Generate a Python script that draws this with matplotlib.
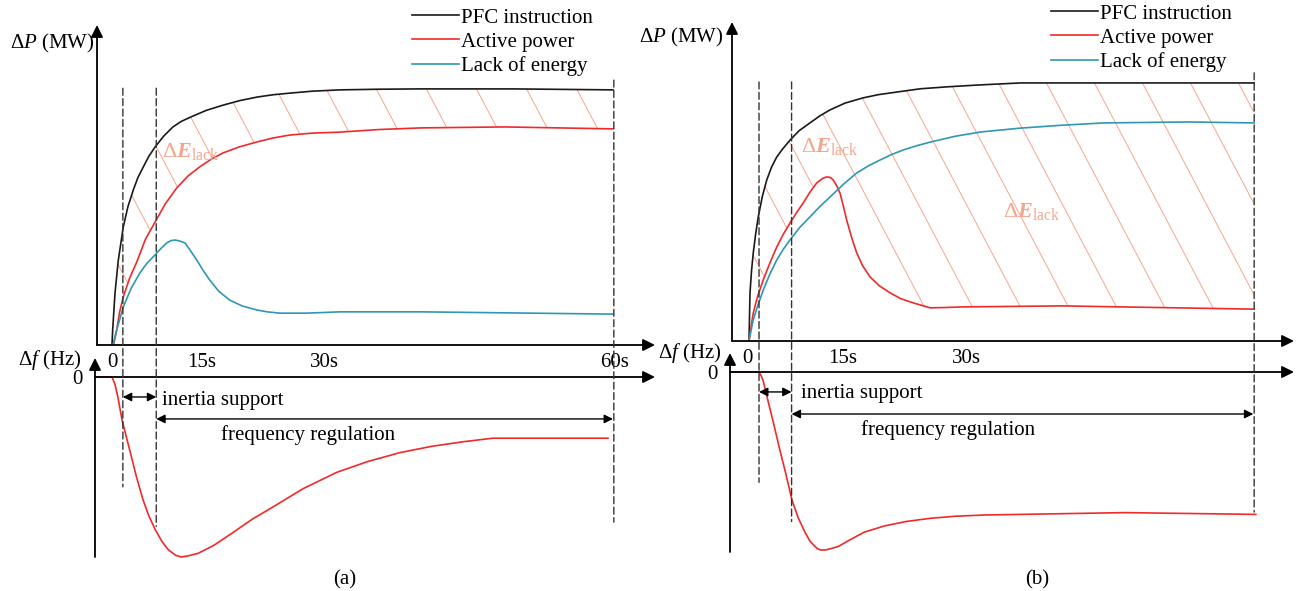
import numpy as np
import matplotlib
matplotlib.use("Agg")
import matplotlib.pyplot as plt
from matplotlib.patches import Polygon, ConnectionPatch

plt.rcParams["font.family"] = ["Liberation Serif", "DejaVu Serif"]
plt.rcParams["font.size"] = 15
plt.rcParams["mathtext.fontset"] = "custom"
plt.rcParams["mathtext.rm"] = "Liberation Serif"
plt.rcParams["mathtext.it"] = "Liberation Serif:italic"
plt.rcParams["mathtext.bf"] = "Liberation Serif:bold"
plt.rcParams["mathtext.bfit"] = "Liberation Serif:italic:bold"

# ---- values (schematic time in s, dP / df in p.u.) ----
# panel (a)
t_pfc_a = [0, 0.08, 0.36, 0.75, 1.35, 1.9, 2.55, 3.1, 3.75, 4.4, 5.15, 6.2, 7.3, 8.3, 9.3, 11.3, 13.3,
           15.3, 17.4, 19.3, 21.3, 24, 27.3, 32, 37, 48, 60]
p_pfc_a = [0, 0.046, 0.16, 0.26, 0.363, 0.425, 0.477, 0.515, 0.548, 0.58, 0.609, 0.643, 0.671, 0.688, 0.70,
           0.722, 0.738, 0.752, 0.763, 0.770, 0.775, 0.781, 0.785, 0.787, 0.788, 0.788, 0.785]
t_act_a = [0.18, 0.56, 0.9, 1.35, 2.1, 2.96, 4.0, 5.15, 6.4, 7.75, 9.1, 10.5, 11.9, 13.3, 15.3, 17.4,
           19.3, 21.3, 24, 27.3, 32, 37, 47, 60]
p_act_a = [0, 0.046, 0.10, 0.148, 0.205, 0.255, 0.325, 0.378, 0.435, 0.483, 0.52, 0.548, 0.572, 0.591,
           0.610, 0.625, 0.637, 0.646, 0.652, 0.655, 0.663, 0.668, 0.671, 0.665]
t_lack_a = [0.12, 0.56, 1.35, 2.3, 3.35, 4.2, 5.15, 5.9, 6.55, 7.05, 7.55, 8.1, 8.74, 9.4, 10.14, 10.9,
            11.7, 12.8, 14.1, 15.6, 17.3, 18.6, 20.1, 23.3, 27.3, 37, 60]
p_lack_a = [0, 0.046, 0.117, 0.175, 0.222, 0.252, 0.277, 0.298, 0.314, 0.321, 0.323, 0.320, 0.314, 0.29,
            0.262, 0.23, 0.20, 0.165, 0.138, 0.12, 0.108, 0.102, 0.098, 0.098, 0.102, 0.102, 0.095]
t_df_a = [-1.8, 0, 0.35, 0.7, 1.2, 1.7, 2.2, 2.9, 3.7, 4.4, 5.2, 6.0, 6.75, 7.6, 8.26, 9.0, 10.3, 12.2,
          14.3, 16.8, 19.35, 22.9, 26.9, 30.6, 34.5, 38.3, 42, 45.6, 59.4]
f_df_a = [0, 0, -0.04, -0.11, -0.239, -0.33, -0.42, -0.55, -0.68, -0.77, -0.85, -0.915, -0.96, -0.99, -1.0,
          -0.995, -0.98, -0.935, -0.87, -0.79, -0.72, -0.62, -0.53, -0.47, -0.42, -0.385, -0.36, -0.34, -0.34]

# panel (b)
t_pfc_b = [0, 0.12, 0.3, 0.51, 0.8, 1.11, 1.6, 2.12, 2.7, 3.32, 4.0, 4.91, 6.0, 7.3, 8.5, 9.7, 11.5,
           13.65, 15.5, 17.7, 20.5, 23.7, 27.7, 32.5, 36, 45, 60.5]
p_pfc_b = [0, 0.148, 0.215, 0.271, 0.33, 0.382, 0.445, 0.495, 0.535, 0.566, 0.59, 0.618, 0.647, 0.671,
           0.693, 0.711, 0.732, 0.748, 0.758, 0.766, 0.776, 0.782, 0.788, 0.794, 0.794, 0.794, 0.794]
t_act_b = [0, 0.25, 0.51, 1.0, 1.71, 2.5, 3.32, 4.1, 4.91, 5.7, 6.5, 7.3, 8.1, 8.8, 9.3, 9.75, 10.1, 10.5,
           10.9, 11.3, 11.7, 12.3, 12.9, 13.6, 14.5, 15.6, 16.9, 18.2, 19.7, 21.7, 23.5, 25.7, 37.5, 60.5]
p_act_b = [0, 0.045, 0.086, 0.135, 0.188, 0.24, 0.289, 0.328, 0.363, 0.395, 0.425, 0.458, 0.486, 0.500,
           0.505, 0.503, 0.495, 0.478, 0.455, 0.415, 0.372, 0.318, 0.271, 0.232, 0.197, 0.170, 0.148, 0.13,
           0.117, 0.102, 0.103, 0.105, 0.108, 0.098]
t_lack_b = [0, 0.25, 0.51, 1.0, 1.71, 2.5, 3.32, 4.1, 4.91, 6.1, 7.3, 8.5, 9.7, 11.3, 12.9, 14.3, 15.7,
            17.1, 18.5, 20.1, 21.7, 24.7, 27.7, 32.5, 37.5, 42.5, 52.7, 60.5]
p_lack_b = [0, 0.033, 0.065, 0.105, 0.157, 0.206, 0.249, 0.282, 0.311, 0.35, 0.382, 0.414, 0.443, 0.482,
            0.517, 0.539, 0.557, 0.574, 0.588, 0.601, 0.612, 0.63, 0.643, 0.655, 0.664, 0.671, 0.674, 0.671]
t_df_b = [-2.0, 1.2, 1.45, 1.7, 2.16, 2.9, 3.6, 4.4, 5.15, 5.9, 6.7, 7.3, 7.8, 8.2, 8.6, 9.1, 9.6, 10.7,
          12.2, 13.8, 16.2, 18.8, 21.7, 24.8, 28.5, 32.5, 45, 60.7]
f_df_b = [0, 0, -0.02, -0.05, -0.14, -0.28, -0.42, -0.57, -0.72, -0.82, -0.90, -0.95, -0.975, -0.993, -1.0,
          -1.0, -0.995, -0.98, -0.94, -0.90, -0.865, -0.84, -0.822, -0.81, -0.803, -0.80, -0.79, -0.80]

# dashed markers: time, bottom (df), top (dP)
dash_t_a = [1.3, 5.3, 60.1]
dash_top_a = [0.79, 0.79, 0.815]
dash_bot_a = [-0.61, -0.83, -0.806]
dash_t_b = [1.2, 5.1, 60.5]
dash_top_b = [0.797, 0.797, 0.825]
dash_bot_b = [-0.62, -0.84, -0.787]

tick_pos_a = [0, 10.7, 25.5, 60.2]
tick_lab_a = ["0", "15s", "30s", "60s"]
tick_pos_b = [-0.2, 11.2, 26.0]
tick_lab_b = ["0", "15s", "30s"]

labels = ["PFC instruction", "Active power", "Lack of energy"]

BLACK = "#1a1a1a"
RED = "#ee2a2a"
BLUE = "#2e97b3"
HATCH = "#f6a58d"
DASH = "#333333"

W, H = 1296, 591
PX_S = 8.35  # pixels per second on the time axis

fig = plt.figure(figsize=(W / 100, H / 100), dpi=100)


def make_axes(left, right, top, bottom, t0_px, y0_px, px_unit):
    ax = fig.add_axes([left / W, 1 - bottom / H, (right - left) / W, (bottom - top) / H])
    ax.set_xlim((left - t0_px) / PX_S, (right - t0_px) / PX_S)
    ax.set_ylim(-(bottom - y0_px) / px_unit, (y0_px - top) / px_unit)
    for s in ax.spines.values():
        s.set_visible(False)
    ax.set_xticks([])
    ax.set_yticks([])
    ax.patch.set_alpha(0)
    return ax


def arrow(ax, a, b, coords, style="-|>", ms=18, lw=1.3):
    ax.annotate("", xy=b, xytext=a, xycoords=coords, textcoords=coords,
                arrowprops=dict(arrowstyle=style, color="black", lw=lw,
                                mutation_scale=ms, shrinkA=0, shrinkB=0),
                annotation_clip=False)


def panel(axP, axF, pfc, act, lack, df, dash, ticks, hatch0, hatch_step, t_end,
          lab_pos, texts):
    # hatched area between instruction and active power
    verts = np.vstack([np.column_stack(pfc), np.column_stack(act)[::-1]])
    region = Polygon(verts, closed=True, facecolor="none", edgecolor="none")
    axP.add_patch(region)
    k = 20.5
    for t0 in np.arange(hatch0, t_end + k, hatch_step):
        ln, = axP.plot([t0, t0 - k], [0, 1.0], color=HATCH, lw=0.7)
        ln.set_clip_path(region)

    kw = dict(lw=1.2, solid_joinstyle="round")
    l1, = axP.plot(*pfc, color=BLACK, **kw)
    l2, = axP.plot(*act, color=RED, **kw)
    l3, = axP.plot(*lack, color=BLUE, **kw)
    axF.plot(*df, color=RED, clip_on=False, **kw)

    for tt, lo, hi in zip(*dash):
        fig.add_artist(ConnectionPatch(xyA=(tt, hi), coordsA=axP.transData,
                                       xyB=(tt, lo), coordsB=axF.transData,
                                       color=DASH, lw=1.0, linestyle=(0, (5, 2.5))))

    # axes with arrows
    arrow(axP, (0, 0), (0, 1), "axes fraction")
    arrow(axP, (0, 0), (1, 0), "axes fraction")
    arrow(axF, (0, 0), (0, 1), "axes fraction")
    arrow(axF, (0, 0), (1, 0), ("axes fraction", "data"))

    axP.set_xticks(ticks[0], ticks[1])
    axP.tick_params(axis="x", length=0, pad=6, labelsize=15)
    axF.set_yticks([0], ["0"])
    axF.tick_params(axis="y", length=0, pad=9, labelsize=15)

    # interval arrows
    d1, d2, d3 = dash[0]
    arrow(axF, (d1, texts[0]), (d2, texts[0]), "data", style="<|-|>", ms=13, lw=1.0)
    arrow(axF, (d2, texts[2]), (d3 - 0.1, texts[2]), "data", style="<|-|>", ms=13, lw=1.0)
    axF.text(texts[4], texts[1], "inertia support", ha="left", va="center")
    axF.text(texts[5], texts[3], "frequency regulation", ha="center", va="center")

    for tx, py in lab_pos:
        axP.text(tx, py, r"$\Delta\mathbfit{E}_{\mathrm{lack}}$", color=HATCH,
                 fontsize=16, ha="left", va="center")
    return [l1, l2, l3]


# panel (a)
axPa = make_axes(97, 655, 25, 345, 112, 345, 325)
axFa = make_axes(95, 655, 358, 557, 112, 377, 180)
ha = panel(axPa, axFa, (t_pfc_a, p_pfc_a), (t_act_a, p_act_a), (t_lack_a, p_lack_a),
           (t_df_a, f_df_a), (dash_t_a, dash_bot_a, dash_top_a), (tick_pos_a, tick_lab_a),
           5.8, 6.0, 60, [(6.0, 0.594)], (-0.111, -0.128, -0.233, -0.322, 6.0, 23.5))

# panel (b)
axPb = make_axes(732, 1294, 22, 341, 749, 341, 325)
axFb = make_axes(730, 1294, 353, 552, 749, 372, 178)
hb = panel(axPb, axFb, (t_pfc_b, p_pfc_b), (t_act_b, p_act_b), (t_lack_b, p_lack_b),
           (t_df_b, f_df_b), (dash_t_b, dash_bot_b, dash_top_b), (tick_pos_b, tick_lab_b),
           0.15, 5.75, 60.5, [(6.2, 0.597), (30.4, 0.397)],
           (-0.112, -0.118, -0.236, -0.326, 6.2, 23.8))

for handles, x0, y0 in [(ha, 412, 8), (hb, 1051, 4)]:
    fig.legend(handles, labels, loc="upper left", bbox_to_anchor=(x0 / W, 1 - y0 / H),
               frameon=False, borderpad=0, borderaxespad=0, handlelength=2.25,
               handletextpad=0.1, labelspacing=0.22, fontsize=15)

fig.text(95 / W, 1 - 43 / H, r"Δ$P$ (MW)", ha="right", va="center")
fig.text(724 / W, 1 - 37 / H, r"Δ$P$ (MW)", ha="right", va="center")
fig.text(82 / W, 1 - 360 / H, r"Δ$f$ (Hz)", ha="right", va="center")
fig.text(722 / W, 1 - 353 / H, r"Δ$f$ (Hz)", ha="right", va="center")
fig.text(345 / W, 1 - 580 / H, "(a)", ha="center", va="center")
fig.text(1037 / W, 1 - 580 / H, "(b)", ha="center", va="center")

fig.savefig("out.png", dpi=100)
